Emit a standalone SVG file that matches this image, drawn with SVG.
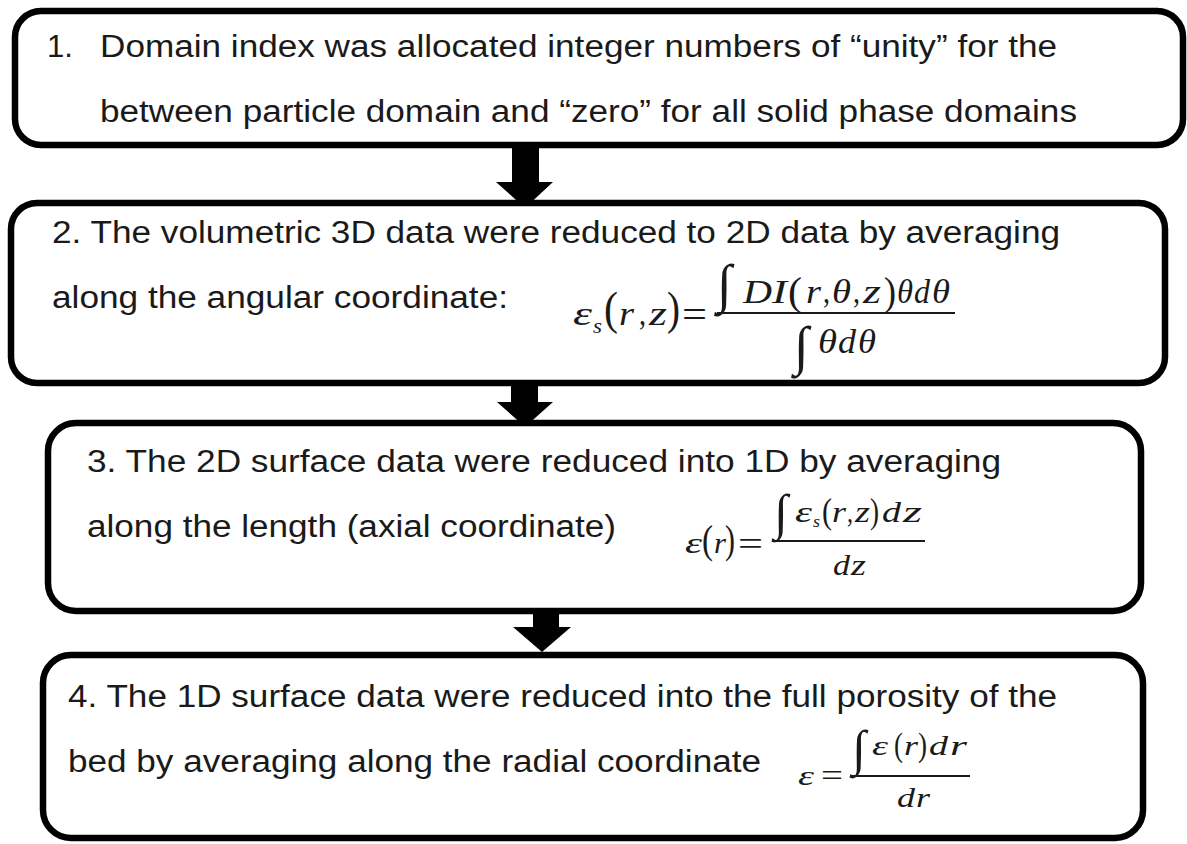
<svg xmlns="http://www.w3.org/2000/svg" width="1187" height="844" viewBox="0 0 1187 844">
<style>
.box{fill:#fff;stroke:#000;stroke-width:6.5}
.t{font-family:"Liberation Sans",Arial,sans-serif;font-size:31px;fill:#1a1a1a}
.m{font-family:"Liberation Serif","Times New Roman",serif;font-style:italic;fill:#1a1a1a}
.u{font-style:normal}
.bar{stroke:#1a1a1a;stroke-width:2.2}
.arrow{fill:#000}
</style>
<rect width="1187" height="844" fill="#fff"/>
<g id="connectors">
<polygon class="arrow" points="512,145 539,145 539,182 553,182 525,208 496,182 512,182"/>
<polygon class="arrow" points="511,383 538,383 538,402 553,402 525,427 497,402 511,402"/>
<polygon class="arrow" points="533,611 559,611 559,627 571,627 542,652 513,627 533,627"/>
</g>
<g id="node1">
<rect class="box" x="15" y="11" width="1168" height="134" rx="26"/>
<text class="t" x="47" y="57">1.</text>
<text class="t" x="100" y="57" textLength="957" lengthAdjust="spacingAndGlyphs">Domain index was allocated integer numbers of “unity” for the</text>
<text class="t" x="100" y="122" textLength="977" lengthAdjust="spacingAndGlyphs">between particle domain and “zero” for all solid phase domains</text>
</g>
<g id="node2">
<rect class="box" x="11" y="203" width="1154" height="180" rx="26"/>
<text class="t" x="52" y="243" textLength="1008" lengthAdjust="spacingAndGlyphs">2. The volumetric 3D data were reduced to 2D data by averaging</text>
<text class="t" x="52" y="308" textLength="456" lengthAdjust="spacingAndGlyphs">along the angular coordinate:</text>
<g class="m" font-size="34">
<text x="573" y="325" textLength="19" lengthAdjust="spacingAndGlyphs">ε</text>
<text x="593" y="333" font-size="20" textLength="9" lengthAdjust="spacingAndGlyphs">s</text>
<text class="u" x="604" y="324" font-size="46" textLength="14" lengthAdjust="spacingAndGlyphs">(</text>
<text x="619" y="325" textLength="15" lengthAdjust="spacingAndGlyphs">r</text>
<text class="u" x="639" y="325" textLength="7" lengthAdjust="spacingAndGlyphs">,</text>
<text x="649" y="325" textLength="18" lengthAdjust="spacingAndGlyphs">z</text>
<text class="u" x="667" y="324" font-size="46" textLength="13" lengthAdjust="spacingAndGlyphs">)</text>
<text class="u" x="682" y="327" font-size="38" textLength="25" lengthAdjust="spacingAndGlyphs">=</text>
<line class="bar" x1="717" y1="313" x2="955" y2="313"/>
<text class="u" x="717" y="302" font-size="54">∫</text>
<text x="743" y="303" textLength="29" lengthAdjust="spacingAndGlyphs">D</text>
<text x="772" y="303" textLength="15" lengthAdjust="spacingAndGlyphs">I</text>
<text class="u" x="788" y="305" font-size="41" textLength="14" lengthAdjust="spacingAndGlyphs">(</text>
<text x="806" y="303" textLength="15" lengthAdjust="spacingAndGlyphs">r</text>
<text class="u" x="823" y="303" textLength="7" lengthAdjust="spacingAndGlyphs">,</text>
<text x="832" y="303" textLength="19" lengthAdjust="spacingAndGlyphs">θ</text>
<text class="u" x="853" y="303" textLength="7" lengthAdjust="spacingAndGlyphs">,</text>
<text x="863" y="303" textLength="18" lengthAdjust="spacingAndGlyphs">z</text>
<text class="u" x="884" y="305" font-size="41" textLength="12" lengthAdjust="spacingAndGlyphs">)</text>
<text x="897" y="303" textLength="16" lengthAdjust="spacingAndGlyphs">θ</text>
<text x="914" y="303" textLength="16" lengthAdjust="spacingAndGlyphs">d</text>
<text x="932" y="303" textLength="18" lengthAdjust="spacingAndGlyphs">θ</text>
<text class="u" x="794" y="364" font-size="54">∫</text>
<text x="818" y="353" textLength="19" lengthAdjust="spacingAndGlyphs">θ</text>
<text x="838" y="353" textLength="18" lengthAdjust="spacingAndGlyphs">d</text>
<text x="858" y="353" textLength="18" lengthAdjust="spacingAndGlyphs">θ</text>
</g>
</g>
<g id="node3">
<rect class="box" x="48" y="423" width="1093" height="188" rx="28"/>
<text class="t" x="87" y="472" textLength="914" lengthAdjust="spacingAndGlyphs">3. The 2D surface data were reduced into 1D by averaging</text>
<text class="t" x="87" y="537" textLength="529" lengthAdjust="spacingAndGlyphs">along the length (axial coordinate)</text>
<g class="m" font-size="30">
<text x="685" y="553" textLength="17" lengthAdjust="spacingAndGlyphs">ε</text>
<text class="u" x="702" y="553" font-size="40" textLength="11" lengthAdjust="spacingAndGlyphs">(</text>
<text x="714" y="553" textLength="12" lengthAdjust="spacingAndGlyphs">r</text>
<text class="u" x="725" y="553" font-size="40" textLength="10" lengthAdjust="spacingAndGlyphs">)</text>
<text class="u" x="738" y="555" font-size="34" textLength="25" lengthAdjust="spacingAndGlyphs">=</text>
<line class="bar" x1="772" y1="541" x2="925" y2="541"/>
<text class="u" x="774" y="529" font-size="50">∫</text>
<text x="795" y="522" textLength="17" lengthAdjust="spacingAndGlyphs">ε</text>
<text x="813" y="527" font-size="17" textLength="7" lengthAdjust="spacingAndGlyphs">s</text>
<text class="u" x="822" y="523" font-size="35" textLength="10" lengthAdjust="spacingAndGlyphs">(</text>
<text x="832" y="522" textLength="14" lengthAdjust="spacingAndGlyphs">r</text>
<text class="u" x="847" y="522" textLength="6" lengthAdjust="spacingAndGlyphs">,</text>
<text x="855" y="522" textLength="15" lengthAdjust="spacingAndGlyphs">z</text>
<text class="u" x="870" y="523" font-size="35" textLength="9" lengthAdjust="spacingAndGlyphs">)</text>
<text x="882" y="522" textLength="19" lengthAdjust="spacingAndGlyphs">d</text>
<text x="903" y="522" textLength="19" lengthAdjust="spacingAndGlyphs">z</text>
<text x="833" y="575" textLength="17" lengthAdjust="spacingAndGlyphs">d</text>
<text x="851" y="575" textLength="15" lengthAdjust="spacingAndGlyphs">z</text>
</g>
</g>
<g id="node4">
<rect class="box" x="43" y="655" width="1100" height="183" rx="28"/>
<text class="t" x="68" y="707" textLength="989" lengthAdjust="spacingAndGlyphs">4. The 1D surface data were reduced into the full porosity of the</text>
<text class="t" x="68" y="772" textLength="693" lengthAdjust="spacingAndGlyphs">bed by averaging along the radial coordinate</text>
<g class="m" font-size="28">
<text x="798" y="785" textLength="16" lengthAdjust="spacingAndGlyphs">ε</text>
<text class="u" x="821" y="786" font-size="32" textLength="22" lengthAdjust="spacingAndGlyphs">=</text>
<line class="bar" x1="852" y1="776" x2="970" y2="776"/>
<text class="u" x="852" y="765" font-size="50">∫</text>
<text x="872" y="755" textLength="16" lengthAdjust="spacingAndGlyphs">ε</text>
<text class="u" x="894" y="756" font-size="33" textLength="9" lengthAdjust="spacingAndGlyphs">(</text>
<text x="904" y="755" textLength="14" lengthAdjust="spacingAndGlyphs">r</text>
<text class="u" x="918" y="756" font-size="33" textLength="9" lengthAdjust="spacingAndGlyphs">)</text>
<text x="929" y="755" textLength="19" lengthAdjust="spacingAndGlyphs">d</text>
<text x="950" y="755" textLength="17" lengthAdjust="spacingAndGlyphs">r</text>
<text x="897" y="807" textLength="18" lengthAdjust="spacingAndGlyphs">d</text>
<text x="916" y="807" textLength="14" lengthAdjust="spacingAndGlyphs">r</text>
</g>
</g>
</svg>
